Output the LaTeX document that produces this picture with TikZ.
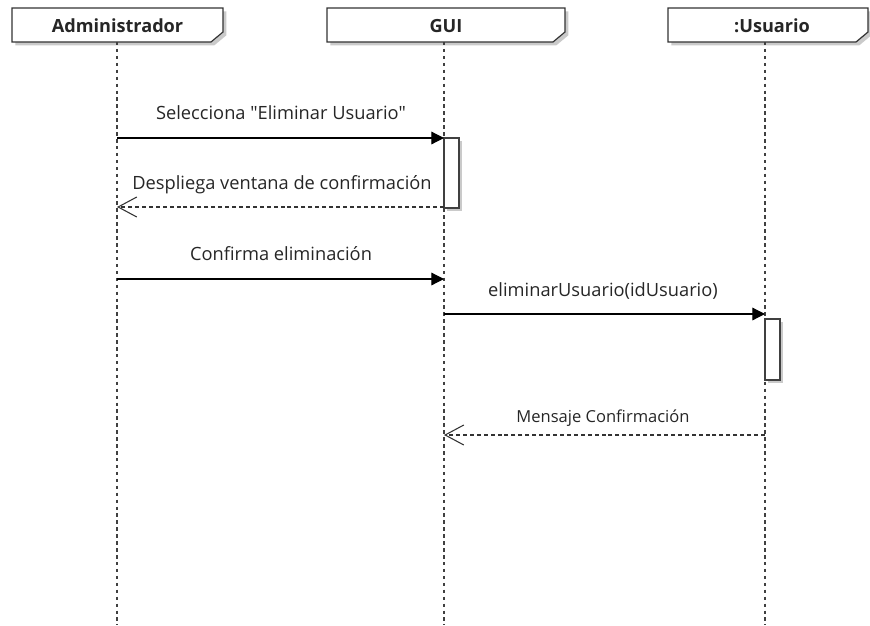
\documentclass[tikz,border=0pt]{standalone}
\usepackage{fontspec}
\setmainfont{Open Sans}[Ligatures=TeXOff]
\usetikzlibrary{arrows.meta,shadows,calc}
\begin{document}
\begin{tikzpicture}[x=0.75pt,y=-0.75pt,
  hdr/.style={draw=none,inner sep=0pt,font=\bfseries\fontsize{13.6}{16}\selectfont,text=black!85},
  hdrshape/.style={draw=black!80,line width=0.9pt,fill=white,drop shadow={opacity=0.35,shadow xshift=2.5pt,shadow yshift=-2.5pt,fill=black!60}},
  lifeline/.style={draw=black!75,line width=0.8pt,dash pattern=on 2.6pt off 2.6pt},
  actbox/.style={draw=black!75,line width=0.9pt,fill=white,drop shadow={opacity=0.35,shadow xshift=2.5pt,shadow yshift=-2pt,fill=black!60}},
  call/.style={draw=black,line width=0.9pt,-{Triangle[length=9.5pt,width=9.5pt]}},
  reply/.style={draw=black!80,line width=0.8pt,dash pattern=on 3pt off 2.2pt,-{Straight Barb[length=14pt,width=15pt,line width=0.8pt]}},
  msg/.style={font=\fontsize{13.7}{16}\selectfont,text=black!85,inner sep=0pt},
  msgs/.style={font=\fontsize{12.4}{15}\selectfont,text=black!85,inner sep=0pt}]
\useasboundingbox (0,0) rectangle (870,625);

% header shapes
\path[hdrshape] (12,8) -- (223,8) -- (223,32) -- (211,42) -- (12,42) -- cycle;
\path[hdrshape] (327,8) -- (565,8) -- (565,32) -- (553,42) -- (327,42) -- cycle;
\path[hdrshape] (668,8) -- (868,8) -- (868,32) -- (856,42) -- (668,42) -- cycle;
\node[hdr] (admin) at (117.5,26) {Administrador};
\node[hdr] (gui) at (446,26) {GUI};
\node[hdr] (usr) at (772,26) {:Usuario};

% lifelines
\coordinate (admintop) at (117,42);
\coordinate (guitop) at (444,42);
\coordinate (usrtop) at (765,42);
\coordinate (adminbot) at (117,625);
\coordinate (guibot) at (444,625);
\coordinate (usrbot) at (765,625);
\draw[lifeline] (admintop) -- (adminbot);
\draw[lifeline] (guitop) -- (guibot);
\draw[lifeline] (usrtop) -- (usrbot);

% activation boxes
\path[actbox] (444,138) rectangle (459,208);
\path[actbox] (765,319) rectangle (780,380);

% message anchors
\coordinate (a1) at (117,138);
\coordinate (g1) at (444,138);
\coordinate (g2) at (444,207);
\coordinate (a2) at (117,207);
\coordinate (a3) at (117,279);
\coordinate (g3) at (444,279);
\coordinate (g4) at (444,314);
\coordinate (u4) at (765,314);
\coordinate (u5) at (765,435);
\coordinate (g5) at (444,435);

\draw[call] (a1) -- (g1);
\node[msg] (m1) at (281,113) {Selecciona "Eliminar Usuario"};
\draw[reply] (g2) -- (a2);
\node[msg] (m2) at (282,185) {Despliega ventana de confirmación};
\draw[call] (a3) -- (g3);
\node[msg] (m3) at (281,254) {Confirma eliminación};
\draw[call] (g4) -- (u4);
\node[msg] (m4) at (603,291) {eliminarUsuario(idUsuario)};
\draw[reply] (u5) -- (g5);
\node[msgs] (m5) at (603,418) {Mensaje Confirmación};
\end{tikzpicture}
\end{document}
